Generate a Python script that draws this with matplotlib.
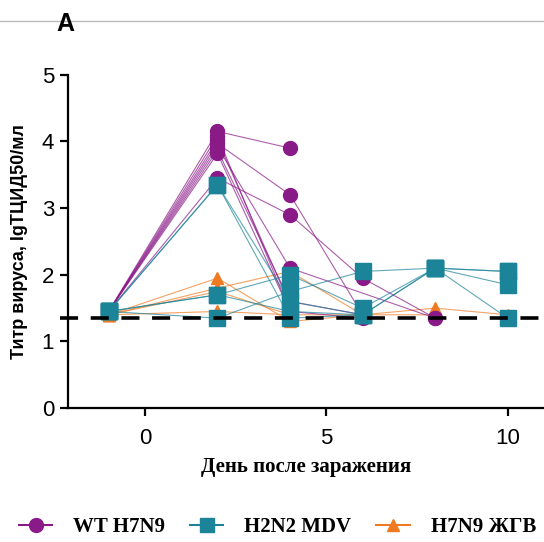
import matplotlib.pyplot as plt
from matplotlib.lines import Line2D

# days after infection
days = [-1, 2, 4, 6, 8, 10]

# WT H7N9, one list per animal (None = no sample)
wt_h7n9 = [
    [1.45, 4.15, 3.90, None, None, None],
    [1.45, 4.08, 1.45, 1.35, None, None],
    [1.45, 4.02, 1.55, None, None, None],
    [1.45, 3.97, 3.20, 1.40, None, None],
    [1.45, 3.92, 2.10, None, 1.35, None],
    [1.45, 3.87, 1.60, 1.40, None, None],
    [1.45, 3.82, 1.45, None, None, None],
    [1.45, 3.45, 2.90, 1.95, 1.35, None],
]

# H2N2 MDV
h2n2_mdv = [
    [1.45, 3.35, 1.60, 1.40, 2.10, 1.35],
    [1.45, 1.70, 2.00, 1.50, 2.10, 2.05],
    [1.45, 1.35, 1.75, 2.05, 2.10, 1.85],
    [1.45, 1.70, 1.45, 1.40, 2.10, 2.05],
    [1.45, 3.35, 1.35, 1.40, None, None],
]

# H7N9 ЖГВ
h7n9_lav = [
    [1.40, 1.95, 1.30, 1.40, 1.50, 1.40],
    [1.40, 1.80, 2.05, 1.40, None, None],
    [1.40, 1.75, 1.40, None, None, None],
    [1.40, 1.45, 1.40, 1.40, 1.40, None],
]

detect_limit = 1.35

purple = "#8a1a88"
teal = "#1c8499"
orange = "#f07a22"

plt.rcParams['font.family'] = ['Liberation Sans', 'DejaVu Sans']

fig = plt.figure(figsize=(5.44, 5.42), dpi=100)
ax = fig.add_axes([0.125, 0.247, 0.875, 0.615])


def draw_group(data, color, marker, ms, lw):
    for animal in data:
        xs = [d for d, v in zip(days, animal) if v is not None]
        ys = [v for v in animal if v is not None]
        ax.plot(xs, ys, color=color, lw=lw, alpha=0.7, zorder=2)
        ax.plot(xs, ys, ls="none", marker=marker, ms=ms, color=color,
                mec=color, zorder=4)


draw_group(h7n9_lav, orange, "^", 9, 0.8)
draw_group(wt_h7n9, purple, "o", 10, 0.8)
draw_group(h2n2_mdv, teal, "s", 11.5, 0.8)

# detection limit
ax.plot([-2.35, 11.2], [detect_limit, detect_limit], color="black", lw=2.6,
        ls=(0, (5, 3.5)), zorder=5, clip_on=False)

ax.set_xlim(-2.12, 11.0)
ax.set_ylim(0, 5)
ax.set_xticks([0, 5, 10])
ax.set_yticks([0, 1, 2, 3, 4, 5])
ax.spines['top'].set_visible(False)
ax.spines['right'].set_visible(False)
ax.spines['left'].set_linewidth(1.6)
ax.spines['bottom'].set_linewidth(1.6)
ax.tick_params(axis='both', width=1.6, length=6, labelsize=16, pad=4)
ax.tick_params(axis='x', pad=8)

ax.set_ylabel("Титр вируса, lgТЦИД50/мл", fontsize=13, fontweight='bold',
              labelpad=10)
ax.set_xlabel("День после заражения", fontsize=15, fontweight='bold',
              family='Liberation Serif', labelpad=6)

# panel letter and thin line at the top
fig.text(0.12, 0.955, "A", fontsize=18, fontweight='bold', ha='center', va='center')
fig.add_artist(Line2D([0, 1], [0.961, 0.961], color="#bbbbbb", lw=1))

handles = [
    Line2D([], [], color=purple, marker="o", ms=10, lw=1.5),
    Line2D([], [], color=teal, marker="s", ms=10, lw=1.5),
    Line2D([], [], color=orange, marker="^", ms=9, lw=1.5),
]
fig.legend(handles, ["WT H7N9", "H2N2 MDV", "H7N9 ЖГВ"], loc="center",
           bbox_to_anchor=(0.51, 0.028), ncol=3, frameon=False,
           prop={'family': 'Liberation Serif', 'weight': 'bold', 'size': 15},
           handlelength=1.6, columnspacing=1.2, handletextpad=1.0)

fig.savefig("out.png", dpi=100)
